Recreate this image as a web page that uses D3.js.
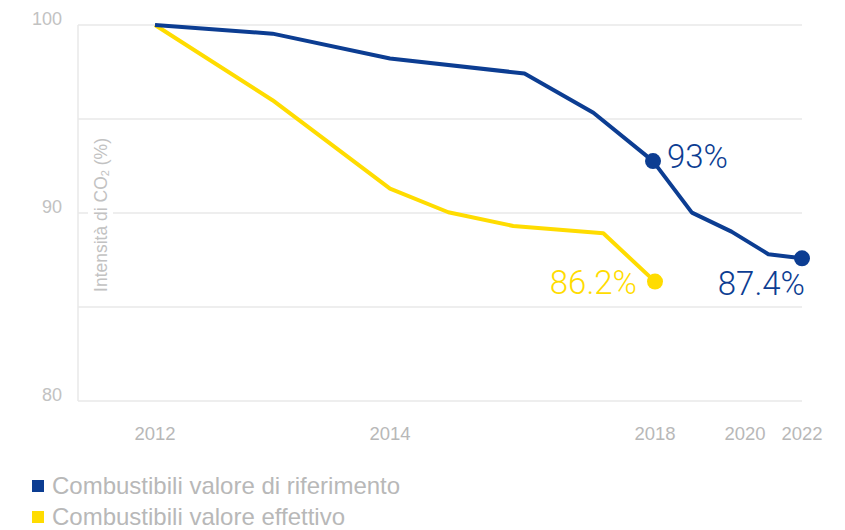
<!DOCTYPE html>
<html>
<head>
<meta charset="utf-8">
<script src="https://cdn.jsdelivr.net/npm/d3@7"></script>
<style>
  body { margin: 0; background: #fff; }
  svg { display: block; font-family: "Liberation Sans", Arial, sans-serif; }
</style>
</head>
<body>
<div id="chart"></div>
<script>
// Data
const tickYears = [2012, 2014, 2018, 2020, 2022];
const yTicks = [80, 90, 100];
const gridValues = [80, 85, 90, 95, 100];

const refYears = [2012, 2013, 2014, 2016.03, 2017.07, 2017.97, 2018.82, 2019.7, 2020.82, 2022];
const refValues = [100, 99.54, 98.22, 97.42, 95.33, 92.76, 90.02, 89.01, 87.81, 87.59];

const effYears = [2012, 2013, 2014, 2014.88, 2015.86, 2017.22, 2018];
const effValues = [100, 96.0, 91.3, 90.04, 89.31, 88.92, 86.35];

const seriesNames = ['Combustibili valore di riferimento', 'Combustibili valore effettivo'];
const seriesColors = ['#0c3d92', '#ffdc00'];

// highlighted points: [series index, point index, label]
const callouts = [
    [0, 5, '93%'],
    [0, 9, '87.4%'],
    [1, 6, '86.2%']
];

const width = 845, height = 530;

const svg = d3.select('#chart').append('svg')
    .attr('width', width)
    .attr('height', height);

// uneven year spacing in the original, so piecewise scale
const x = d3.scaleLinear()
    .domain(tickYears)
    .range([155, 390, 655, 745, 802]);

const y = d3.scaleLinear()
    .domain([80, 100])
    .range([401, 25]);

const left = 78, right = 802;

// gridlines
svg.append('g')
    .selectAll('line')
    .data(gridValues)
    .join('line')
    .attr('x1', left)
    .attr('x2', right)
    .attr('y1', d => y(d))
    .attr('y2', d => y(d))
    .style('stroke', '#e8e8e8')
    .style('stroke-width', 1.5);

svg.append('line')
    .attr('x1', left).attr('x2', left)
    .attr('y1', y(100)).attr('y2', y(80))
    .style('stroke', '#e8e8e8')
    .style('stroke-width', 1.5);

// y tick labels
svg.append('g')
    .selectAll('text')
    .data(yTicks)
    .join('text')
    .attr('x', 62)
    .attr('y', d => y(d))
    .attr('text-anchor', 'end')
    .style('font-size', '18px')
    .style('fill', '#c2c2c2')
    .text(d => d);

// x tick labels
svg.append('g')
    .selectAll('text')
    .data(tickYears)
    .join('text')
    .attr('x', d => x(d))
    .attr('y', 440)
    .attr('text-anchor', 'middle')
    .style('font-size', '18.5px')
    .style('fill', '#b8b8b8')
    .text(d => d);

// y title sits on a white patch over the gridline
svg.append('rect')
    .attr('x', 88)
    .attr('y', 132)
    .attr('width', 25)
    .attr('height', 166)
    .style('fill', '#fff');

const yTitle = svg.append('text')
    .attr('transform', 'translate(107,215) rotate(-90)')
    .attr('text-anchor', 'middle')
    .style('font-size', '17.5px')
    .style('fill', '#c2c2c2');
yTitle.append('tspan').text('Intensità di CO');
yTitle.append('tspan').attr('dy', 2).style('font-size', '11px').text('2');
yTitle.append('tspan').attr('dy', -2).text(' (%)');

const series = [
    refYears.map((yr, i) => ({ year: yr, value: refValues[i] })),
    effYears.map((yr, i) => ({ year: yr, value: effValues[i] }))
];

const line = d3.line()
    .x(d => x(d.year))
    .y(d => y(d.value));

// draw yellow first so blue ends up on top
[1, 0].forEach(s => {
    svg.append('path')
        .datum(series[s])
        .attr('d', line)
        .style('fill', 'none')
        .style('stroke', seriesColors[s])
        .style('stroke-width', 4)
        .style('stroke-linejoin', 'round');
});

// dots and value labels
const labelOffsets = [
    { dx: 14, dy: 7, anchor: 'start' },
    { dx: 3, dy: 37, anchor: 'end' },
    { dx: -18, dy: 12, anchor: 'end' }
];

callouts.forEach(([s, i, label], k) => {
    const p = series[s][i];
    const off = labelOffsets[k];

    svg.append('circle')
        .attr('cx', x(p.year))
        .attr('cy', y(p.value))
        .attr('r', 8)
        .style('fill', seriesColors[s]);

    svg.append('text')
        .attr('x', x(p.year) + off.dx)
        .attr('y', y(p.value) + off.dy)
        .attr('text-anchor', off.anchor)
        .style('font-family', 'Roboto, "Liberation Sans", sans-serif')
        .style('font-weight', 300)
        .style('font-size', '33px')
        .style('fill', seriesColors[s])
        .text(label);
});

// legend
const legend = svg.append('g')
    .attr('transform', 'translate(32,480)');

seriesNames.forEach((name, i) => {
    const item = legend.append('g')
        .attr('transform', `translate(0, ${i * 31})`);

    item.append('rect')
        .attr('width', 12)
        .attr('height', 12)
        .style('fill', seriesColors[i]);

    item.append('text')
        .attr('x', 20)
        .attr('y', 14)
        .style('font-size', '24px')
        .style('fill', '#b8b8b8')
        .text(name);
});
</script>
</body>
</html>
